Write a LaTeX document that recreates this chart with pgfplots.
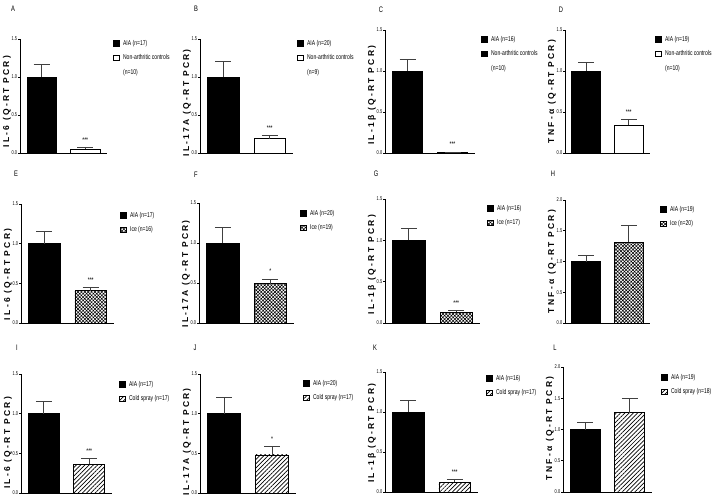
\documentclass[border=0pt]{standalone}
\usepackage{fontspec}
\setmainfont{Liberation Sans}
\newfontfamily\condfont[FakeStretch=0.72]{Liberation Sans}
\newfontfamily\labfont[LetterSpace=27]{Liberation Sans}
\usepackage{pgfplots}
\pgfplotsset{compat=1.18}
\usetikzlibrary{patterns.meta}

\tikzset{
  stars/.style={anchor=south, inner sep=0pt, yshift=5pt, font=\condfont\fontsize{7}{7}\selectfont},
  plab/.style={inner sep=0pt, font=\condfont\fontsize{8}{8}\selectfont},
}
\pgfplotsset{
  sq/.style={bar shift=0pt, line width=0.8pt,
    legend image code/.code={\draw[##1, line width=0.6pt] (0pt,-2.8pt) rectangle (5.8pt,2.8pt);}},
  eb/.style={error bars/.cd, y dir=plus, y explicit,
    error bar style={line width=0.9pt, black!75},
    error mark options={rotate=90, mark size=8pt, line width=0.9pt, black!75}},
  ice/.style={pattern={Hatch[angle=45, distance=2.4pt, line width=0.55pt]}},
  cold/.style={pattern={Lines[angle=45, distance=3pt, line width=0.7pt]}},
  ylpos/.style={ylabel style={at={([xshift=-13pt]axis description cs:0,#1)}}},
  legpos/.style 2 args={legend style={at={(1,1)}, anchor=north west, xshift=#1pt, yshift=#2pt}},
  panel/.style={
    scale only axis, anchor=south west, clip=false,
    xmin=-0.5, xmax=1.5, ymin=0, ymax=1.5, ytick={0,0.5,1,1.5},
    axis x line*=bottom, axis y line*=left,
    axis line style={line width=0.8pt, -},
    xtick=\empty,
    tick align=outside, major tick length=2pt,
    tick style={line width=0.6pt, black},
    yticklabel style={font=\condfont\fontsize{5.5}{5.5}\selectfont, inner sep=0.6pt,
      /pgf/number format/.cd, fixed, fixed zerofill, precision=1, assume math mode=true},
    ybar, bar width=0.68, bar shift=0pt,
    ylabel style={anchor=center, font=\labfont\bfseries\fontsize{8.5}{8.5}\selectfont},
    legend style={draw=none, fill=none, inner sep=0pt,
      font=\condfont\fontsize{7}{7.5}\selectfont,
      nodes={inner sep=0.5pt, text height=4.8pt, text depth=1.3pt},
      row sep=7.5pt, column sep=3pt},
    legend cell align=left,
  },
}

\begin{document}
\begin{tikzpicture}
\useasboundingbox (0,0) rectangle (716pt,-499pt);

% ---------- row 1: AIA vs non-arthritic controls ----------
\node[plab] at (13pt,-9pt) {A};
\begin{axis}[panel, at={(20pt,-153pt)}, width=87pt, height=114pt,
  ylabel={IL-6 (Q-RT PCR)}, ylpos=0.45, legpos={6}{-0.5}]
\addplot[sq, fill=black, draw=black, eb] coordinates {(0,1.0) +- (0,0.16)};
\addlegendentry{AIA (n=17)}
\addplot[sq, fill=white, draw=black, eb] coordinates {(1,0.05) +- (0,0.02)};
\addlegendentry{Non-arthritic controls}
\addlegendimage{empty legend}
\addlegendentry[yshift=3pt]{(n=10)}
\node[stars] at (axis cs:1,0.07) {***};
\end{axis}

\node[plab] at (196pt,-9pt) {B};
\begin{axis}[panel, at={(200pt,-153pt)}, width=93pt, height=114pt,
  ylabel={IL-17A (Q-RT PCR)}, ylpos=0.44, legpos={4}{-0.5}]
\addplot[sq, fill=black, draw=black, eb] coordinates {(0,1.0) +- (0,0.20)};
\addlegendentry{AIA (n=20)}
\addplot[sq, fill=white, draw=black, eb] coordinates {(1,0.19) +- (0,0.04)};
\addlegendentry{Non-arthritic controls}
\addlegendimage{empty legend}
\addlegendentry[yshift=3pt]{(n=9)}
\node[stars] at (axis cs:1,0.23) {***};
\end{axis}

\node[plab] at (381pt,-10pt) {C};
\begin{axis}[panel, at={(385pt,-153pt)}, width=90pt, height=123pt,
  ylabel={IL-1β (Q-RT PCR)}, ylpos=0.47, legpos={6}{-5.5}]
\addplot[sq, fill=black, draw=black, eb] coordinates {(0,1.0) +- (0,0.14)};
\addlegendentry{AIA (n=16)}
\addplot[sq, fill=black, draw=black, eb] coordinates {(1,0.01) +- (0,0.0)};
\addlegendentry{Non-arthritic controls}
\addlegendimage{empty legend}
\addlegendentry[yshift=3pt]{(n=10)}
\node[stars] at (axis cs:1,0.02) {***};
\end{axis}

\node[plab] at (561pt,-10pt) {D};
\begin{axis}[panel, at={(565pt,-153pt)}, width=85pt, height=123pt,
  ylabel={TNF-α (Q-RT PCR)}, ylpos=0.5, legpos={5}{-5.5}]
\addplot[sq, fill=black, draw=black, eb] coordinates {(0,1.0) +- (0,0.10)};
\addlegendentry{AIA (n=19)}
\addplot[sq, fill=white, draw=black, eb] coordinates {(1,0.34) +- (0,0.07)};
\addlegendentry{Non-arthritic controls}
\addlegendimage{empty legend}
\addlegendentry[yshift=3pt]{(n=10)}
\node[stars] at (axis cs:1,0.41) {***};
\end{axis}

% ---------- row 2: AIA vs ice ----------
\node[plab] at (16pt,-174pt) {E};
\begin{axis}[panel, at={(21pt,-323pt)}, width=93pt, height=119pt,
  ylabel={IL-6 (Q-RT PCR)}, ylpos=0.41, legpos={6}{-7.5}]
\addplot[sq, fill=black, draw=black, eb] coordinates {(0,1.0) +- (0,0.15)};
\addlegendentry{AIA (n=17)}
\addplot[sq, ice, draw=black, eb] coordinates {(1,0.405) +- (0,0.04)};
\addlegendentry{Ice (n=16)}
\node[stars] at (axis cs:1,0.445) {***};
\end{axis}

\node[plab] at (196pt,-175pt) {F};
\begin{axis}[panel, at={(199pt,-323pt)}, width=95pt, height=120pt,
  ylabel={IL-17A (Q-RT PCR)}, ylpos=0.41, legpos={6}{-6.5}]
\addplot[sq, fill=black, draw=black, eb] coordinates {(0,1.0) +- (0,0.19)};
\addlegendentry{AIA (n=20)}
\addplot[sq, ice, draw=black, eb] coordinates {(1,0.49) +- (0,0.06)};
\addlegendentry{Ice (n=19)}
\node[stars] at (axis cs:1,0.55) {*};
\end{axis}

\node[plab] at (376pt,-174pt) {G};
\begin{axis}[panel, at={(385pt,-323pt)}, width=95pt, height=124pt,
  ylabel={IL-1β (Q-RT PCR)}, ylpos=0.47, legpos={7}{-5.5}]
\addplot[sq, fill=black, draw=black, eb] coordinates {(0,1.0) +- (0,0.14)};
\addlegendentry{AIA (n=16)}
\addplot[sq, ice, draw=black, eb] coordinates {(1,0.13) +- (0,0.02)};
\addlegendentry{Ice (n=17)}
\node[stars] at (axis cs:1,0.15) {***};
\end{axis}

\node[plab] at (553pt,-174pt) {H};
\begin{axis}[panel, at={(565pt,-323pt)}, width=85pt, height=123pt,
  ymax=2, ytick={0,0.5,1,1.5,2},
  ylabel={TNF-α (Q-RT PCR)}, ylpos=0.5, legpos={10}{-5.5}]
\addplot[sq, fill=black, draw=black, eb] coordinates {(0,1.0) +- (0,0.10)};
\addlegendentry{AIA (n=19)}
\addplot[sq, ice, draw=black, eb] coordinates {(1,1.31) +- (0,0.28)};
\addlegendentry{Ice (n=20)}
\end{axis}

% ---------- row 3: AIA vs cold spray ----------
\node[plab] at (17pt,-348pt) {I};
\begin{axis}[panel, at={(21pt,-493pt)}, width=91pt, height=119pt,
  ylabel={IL-6 (Q-RT PCR)}, ylpos=0.42, legpos={7}{-6.5}]
\addplot[sq, fill=black, draw=black, eb] coordinates {(0,1.0) +- (0,0.15)};
\addlegendentry{AIA (n=17)}
\addplot[sq, cold, draw=black, eb] coordinates {(1,0.36) +- (0,0.07)};
\addlegendentry{Cold spray (n=17)}
\node[stars] at (axis cs:1,0.43) {***};
\end{axis}

\node[plab] at (195pt,-348pt) {J};
\begin{axis}[panel, at={(200pt,-493pt)}, width=96pt, height=119pt,
  ylabel={IL-17A (Q-RT PCR)}, ylpos=0.43, legpos={7}{-5.5}]
\addplot[sq, fill=black, draw=black, eb] coordinates {(0,1.0) +- (0,0.20)};
\addlegendentry{AIA (n=20)}
\addplot[sq, cold, draw=black, eb] coordinates {(1,0.48) +- (0,0.11)};
\addlegendentry{Cold spray (n=17)}
\node[stars] at (axis cs:1,0.59) {*};
\end{axis}

\node[plab] at (375pt,-348pt) {K};
\begin{axis}[panel, at={(385pt,-492pt)}, width=93pt, height=120pt,
  ylabel={IL-1β (Q-RT PCR)}, ylpos=0.49, legpos={8}{-2.5}]
\addplot[sq, fill=black, draw=black, eb] coordinates {(0,1.0) +- (0,0.15)};
\addlegendentry{AIA (n=16)}
\addplot[sq, cold, draw=black, eb] coordinates {(1,0.125) +- (0,0.035)};
\addlegendentry{Cold spray (n=17)}
\node[stars] at (axis cs:1,0.16) {***};
\end{axis}

\node[plab] at (555pt,-348pt) {L};
\begin{axis}[panel, at={(563pt,-492pt)}, width=89pt, height=125pt,
  ymax=2, ytick={0,0.5,1,1.5,2},
  ylabel={TNF-α (Q-RT PCR)}, ylpos=0.51, legpos={9}{-6.5}]
\addplot[sq, fill=black, draw=black, eb] coordinates {(0,1.0) +- (0,0.11)};
\addlegendentry{AIA (n=19)}
\addplot[sq, cold, draw=black, eb] coordinates {(1,1.27) +- (0,0.22)};
\addlegendentry{Cold spray (n=18)}
\end{axis}
\end{tikzpicture}
\end{document}
